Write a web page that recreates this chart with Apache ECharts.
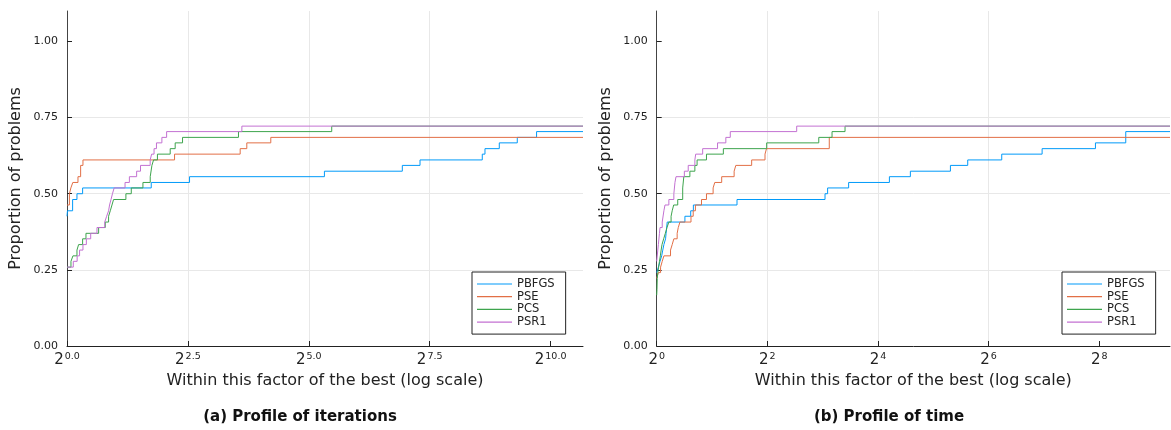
<!DOCTYPE html>
<html>
<head>
<meta charset="utf-8">
<script src="https://cdn.jsdelivr.net/npm/echarts@6/dist/echarts.min.js"></script>
<style>
html,body{margin:0;padding:0;background:#fff;}
#chart{width:1171px;height:430px;}
</style>
</head>
<body>
<div id="chart"></div>
<script>
// ---------- data ----------
const seriesNames = ['PBFGS', 'PSE', 'PCS', 'PSR1'];

// x values: log2 of the performance ratio; y values: proportion of problems
// (a) iterations
const iterX_PBFGS = [0, 0.01, 0.116, 0.206, 0.323, 1.742, 2.534, 5.323, 6.934, 7.30, 8.587, 8.643, 8.939, 9.311, 9.710, 10.67];
const iterY_PBFGS = [0.426, 0.444, 0.481, 0.500, 0.519, 0.537, 0.556, 0.574, 0.593, 0.611, 0.630, 0.648, 0.667, 0.685, 0.704, 0.704];
const iterX_PSE = [0, 0.05, 0.08, 0.12, 0.227, 0.282, 0.330, 2.224, 3.581, 3.718, 4.214, 10.67];
const iterY_PSE = [0.463, 0.500, 0.519, 0.537, 0.556, 0.593, 0.611, 0.630, 0.648, 0.667, 0.685, 0.685];
const iterX_PCS = [0, 0.082, 0.123, 0.206, 0.240, 0.323, 0.392, 0.654, 0.791, 0.860, 0.895, 0.93, 0.963, 1.218, 1.329, 1.570, 1.721, 1.756, 1.790, 1.87, 2.134, 2.237, 2.389, 3.546, 5.474, 10.67];
const iterY_PCS = [0.259, 0.278, 0.296, 0.315, 0.333, 0.352, 0.370, 0.389, 0.407, 0.426, 0.444, 0.463, 0.481, 0.500, 0.519, 0.537, 0.556, 0.593, 0.611, 0.630, 0.648, 0.667, 0.685, 0.704, 0.722, 0.722];
const iterX_PSR1 = [0, 0.13, 0.21, 0.26, 0.33, 0.40, 0.49, 0.62, 0.78, 0.82, 0.86, 0.88, 0.91, 0.94, 0.975, 1.20, 1.29, 1.44, 1.52, 1.72, 1.75, 1.80, 1.85, 1.962, 2.06, 3.616, 10.67];
const iterY_PSR1 = [0.259, 0.278, 0.296, 0.315, 0.333, 0.352, 0.370, 0.389, 0.407, 0.426, 0.444, 0.463, 0.481, 0.500, 0.519, 0.537, 0.556, 0.574, 0.593, 0.611, 0.630, 0.648, 0.667, 0.685, 0.704, 0.722, 0.722];

// (b) time
const timeX_PBFGS = [0, 0.03, 0.06, 0.09, 0.11, 0.13, 0.16, 0.17, 0.19, 0.51, 0.615, 0.663, 1.452, 3.043, 3.09, 3.47, 4.207, 4.586, 5.31, 5.623, 6.238, 6.968, 7.932, 8.48, 9.28];
const timeY_PBFGS = [0.241, 0.259, 0.278, 0.296, 0.315, 0.333, 0.352, 0.370, 0.407, 0.426, 0.444, 0.463, 0.481, 0.500, 0.519, 0.537, 0.556, 0.574, 0.593, 0.611, 0.630, 0.648, 0.667, 0.704, 0.704];
const timeX_PSE = [0, 0.03, 0.07, 0.10, 0.13, 0.25, 0.28, 0.31, 0.37, 0.39, 0.42, 0.62, 0.66, 0.70, 0.81, 0.90, 1.02, 1.05, 1.175, 1.40, 1.43, 1.717, 1.958, 1.985, 3.12, 9.28];
const timeY_PSE = [0.222, 0.241, 0.259, 0.278, 0.296, 0.315, 0.333, 0.352, 0.370, 0.389, 0.407, 0.426, 0.444, 0.463, 0.481, 0.500, 0.519, 0.537, 0.556, 0.574, 0.593, 0.611, 0.630, 0.648, 0.685, 0.685];
const timeX_PCS = [0, 0.005, 0.01, 0.02, 0.035, 0.05, 0.066, 0.08, 0.096, 0.126, 0.156, 0.186, 0.22, 0.26, 0.28, 0.307, 0.38, 0.47, 0.49, 0.60, 0.69, 0.73, 0.90, 1.205, 1.988, 2.93, 3.17, 3.405, 9.28];
const timeY_PCS = [0.167, 0.185, 0.222, 0.241, 0.259, 0.278, 0.296, 0.315, 0.333, 0.352, 0.370, 0.389, 0.407, 0.426, 0.444, 0.463, 0.481, 0.519, 0.556, 0.574, 0.593, 0.611, 0.630, 0.648, 0.667, 0.685, 0.704, 0.722, 0.722];
const timeX_PSR1 = [0, 0.02, 0.03, 0.05, 0.06, 0.10, 0.13, 0.15, 0.22, 0.31, 0.33, 0.349, 0.50, 0.57, 0.69, 0.705, 0.831, 1.10, 1.25, 1.33, 2.531, 9.28];
const timeY_PSR1 = [0.278, 0.315, 0.333, 0.370, 0.389, 0.407, 0.444, 0.463, 0.481, 0.500, 0.537, 0.556, 0.574, 0.593, 0.611, 0.630, 0.648, 0.667, 0.685, 0.704, 0.722, 0.722];

// ticks
const yTickValues = [0, 0.25, 0.5, 0.75, 1.0];
const yTickLabels = ['0.00', '0.25', '0.50', '0.75', '1.00'];
const iterXTickValues = [0, 2.5, 5, 7.5, 10];
const iterXTickExps = ['0.0', '2.5', '5.0', '7.5', '10.0'];
const timeXTickValues = [0, 2, 4, 6, 8];
const timeXTickExps = ['0', '2', '4', '6', '8'];

// texts
const xAxisTitle = 'Within this factor of the best (log scale)';
const yAxisTitle = 'Proportion of problems';
const captionA = '(a) Profile of iterations';
const captionB = '(b) Profile of time';

// ---------- build ----------
const colors = ['#009AF9', '#E26F46', '#3DA44D', '#C371D2'];
const FONT = 'DejaVu Sans';
const zip = (xs, ys) => xs.map((x, i) => [x, ys[i]]);

const iterData = [zip(iterX_PBFGS, iterY_PBFGS), zip(iterX_PSE, iterY_PSE), zip(iterX_PCS, iterY_PCS), zip(iterX_PSR1, iterY_PSR1)];
const timeData = [zip(timeX_PBFGS, timeY_PBFGS), zip(timeX_PSE, timeY_PSE), zip(timeX_PCS, timeY_PCS), zip(timeX_PSR1, timeY_PSR1)];

function xAxisCfg(idx, max, interval, vals, exps) {
  return {
    type: 'value', gridIndex: idx, min: 0, max: max, interval: interval,
    name: xAxisTitle, nameLocation: 'middle', nameGap: 26,
    nameTextStyle: { fontFamily: FONT, fontSize: 16, color: '#222', verticalAlign: 'top' },
    axisLine: { show: true, onZero: false, lineStyle: { color: '#222', width: 1 } },
    axisTick: { show: true, inside: true, length: 5, customValues: vals, lineStyle: { color: '#222' } },
    axisLabel: {
      customValues: vals, margin: 6,
      formatter: function (v) {
        const i = vals.indexOf(v);
        return i < 0 ? '' : '{b|2}{s|' + exps[i] + '}';
      },
      rich: {
        b: { fontFamily: FONT, fontSize: 15, color: '#222', lineHeight: 17 },
        s: { fontFamily: FONT, fontSize: 9.5, color: '#222', verticalAlign: 'top', lineHeight: 17, padding: [0, 0, 0, 1] }
      }
    },
    splitLine: { show: true, showMinLine: false, showMaxLine: false, lineStyle: { color: '#e8e8e8', width: 1 } }
  };
}
function yAxisCfg(idx) {
  return {
    type: 'value', gridIndex: idx, min: 0, max: 1.1, interval: 0.25,
    name: yAxisTitle, nameLocation: 'middle', nameGap: 43,
    nameTextStyle: { fontFamily: FONT, fontSize: 16, color: '#222' },
    axisLine: { show: true, onZero: false, lineStyle: { color: '#444', width: 1 } },
    axisTick: { show: true, inside: true, length: 5, customValues: yTickValues, lineStyle: { color: '#222' } },
    axisLabel: {
      customValues: yTickValues, margin: 9, fontFamily: FONT, fontSize: 11, color: '#222',
      formatter: function (v) {
        const i = yTickValues.findIndex(t => Math.abs(t - v) < 1e-9);
        return i < 0 ? '' : yTickLabels[i];
      }
    },
    splitLine: { show: true, showMinLine: false, showMaxLine: false, lineStyle: { color: '#e8e8e8', width: 1 } }
  };
}
function legendCfg(idx, left) {
  return {
    orient: 'vertical', left: left, top: 272,
    data: seriesNames.map(n => ({ name: n, icon: 'rect' })),
    itemWidth: 35, itemHeight: 1.2, itemGap: 0.7,
    padding: [6, 11, 6, 5],
    backgroundColor: '#fff', borderColor: '#222', borderWidth: 1, borderRadius: 0,
    textStyle: { fontFamily: FONT, fontSize: 11.5, color: '#222', lineHeight: 12 },
    selectedMode: false
  };
}

const series = [];
[iterData, timeData].forEach((set, gi) => {
  set.forEach((d, si) => {
    series.push({
      name: seriesNames[si], type: 'line', step: 'end',
      xAxisIndex: gi, yAxisIndex: gi, data: d,
      symbol: 'none', showSymbol: false,
      lineStyle: { color: colors[si], width: 1 },
      itemStyle: { color: colors[si] },
      emphasis: { disabled: true }, silent: true, z: 2 + si
    });
  });
});

const option = {
  animation: false,
  backgroundColor: '#fff',
  grid: [
    { left: 67, top: 11, width: 516, height: 335, outerBoundsMode: 'none', containLabel: false },
    { left: 656.7, top: 11, width: 513.3, height: 335, outerBoundsMode: 'none', containLabel: false }
  ],
  xAxis: [xAxisCfg(0, 10.67, 2.5, iterXTickValues, iterXTickExps), xAxisCfg(1, 9.28, 2, timeXTickValues, timeXTickExps)],
  yAxis: [yAxisCfg(0), yAxisCfg(1)],
  legend: [legendCfg(0, 472), legendCfg(1, 1062)],
  series: series,
  graphic: [
    { type: 'text', x: 300, y: 417, style: { text: captionA, font: 'bold 15px "DejaVu Sans"', fill: '#111', align: 'center', verticalAlign: 'middle' } },
    { type: 'text', x: 889, y: 417, style: { text: captionB, font: 'bold 15px "DejaVu Sans"', fill: '#111', align: 'center', verticalAlign: 'middle' } }
  ]
};

const chart = echarts.init(document.getElementById('chart'), null, { renderer: 'canvas' });
chart.setOption(option);
</script>
</body>
</html>
